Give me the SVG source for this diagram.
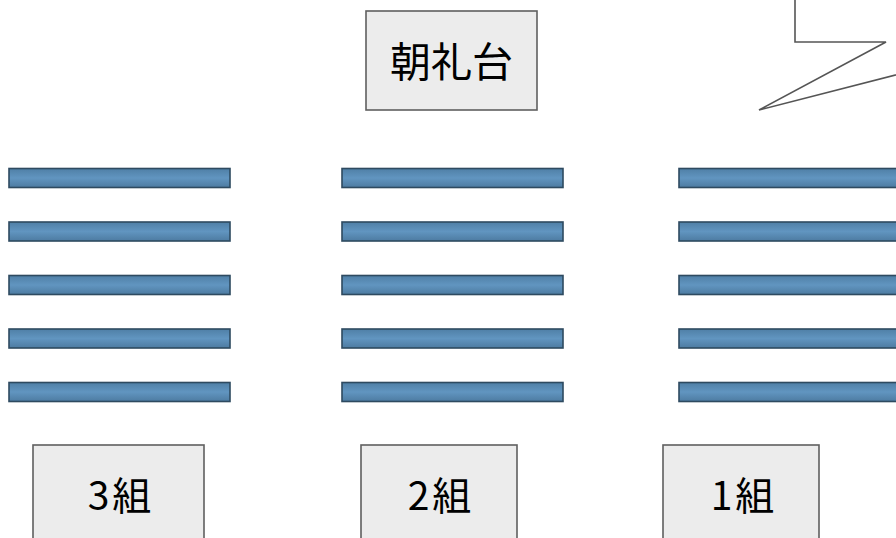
<svg xmlns="http://www.w3.org/2000/svg" width="896" height="538" viewBox="0 0 896 538">
<defs>
<linearGradient id="barg" x1="0" y1="0" x2="0" y2="1">
<stop offset="0" stop-color="#4f7fa6"/>
<stop offset="0.5" stop-color="#6195c0"/>
<stop offset="1" stop-color="#4d7ba1"/>
</linearGradient>
<style>
.box{fill:#ececec;stroke:#5f5f5f;stroke-width:1.6}
.lbl{font-family:"Noto Sans CJK JP","Liberation Sans",sans-serif;fill:#000;text-anchor:middle}
.num{letter-spacing:3px}
.bar{fill:url(#barg);stroke:#2e4a60;stroke-width:1.6}
.call{fill:#fff;stroke:#555;stroke-width:1.6;stroke-linejoin:miter}
</style>
</defs>
<rect width="896" height="538" fill="#fff"/>
<g id="callout">
<path class="call" d="M795,-5 V42 H886 L759,110 L905,72.5 V-5 Z"/>
</g>
<g id="stage">
<rect class="box" x="366" y="11" width="171" height="99"/>
<text class="lbl" x="451.5" y="77" font-size="41">朝礼台</text>
</g>
<g id="rows3">
<rect class="bar" x="9" y="168.5" width="221" height="19"/>
<rect class="bar" x="9" y="222" width="221" height="19"/>
<rect class="bar" x="9" y="275.5" width="221" height="19"/>
<rect class="bar" x="9" y="329" width="221" height="19"/>
<rect class="bar" x="9" y="382.5" width="221" height="19"/>
</g>
<g id="rows2">
<rect class="bar" x="342" y="168.5" width="221" height="19"/>
<rect class="bar" x="342" y="222" width="221" height="19"/>
<rect class="bar" x="342" y="275.5" width="221" height="19"/>
<rect class="bar" x="342" y="329" width="221" height="19"/>
<rect class="bar" x="342" y="382.5" width="221" height="19"/>
</g>
<g id="rows1">
<rect class="bar" x="679" y="168.5" width="230" height="19"/>
<rect class="bar" x="679" y="222" width="230" height="19"/>
<rect class="bar" x="679" y="275.5" width="230" height="19"/>
<rect class="bar" x="679" y="329" width="230" height="19"/>
<rect class="bar" x="679" y="382.5" width="230" height="19"/>
</g>
<g id="class3">
<rect class="box" x="33" y="445" width="171" height="110"/>
<text class="lbl num" x="121" y="510" font-size="39">3組</text>
</g>
<g id="class2">
<rect class="box" x="361" y="445" width="156" height="110"/>
<text class="lbl num" x="441" y="510" font-size="39">2組</text>
</g>
<g id="class1">
<rect class="box" x="663" y="445" width="156" height="110"/>
<text class="lbl num" x="744" y="510" font-size="39">1組</text>
</g>
<g id="connectors"></g>
</svg>
